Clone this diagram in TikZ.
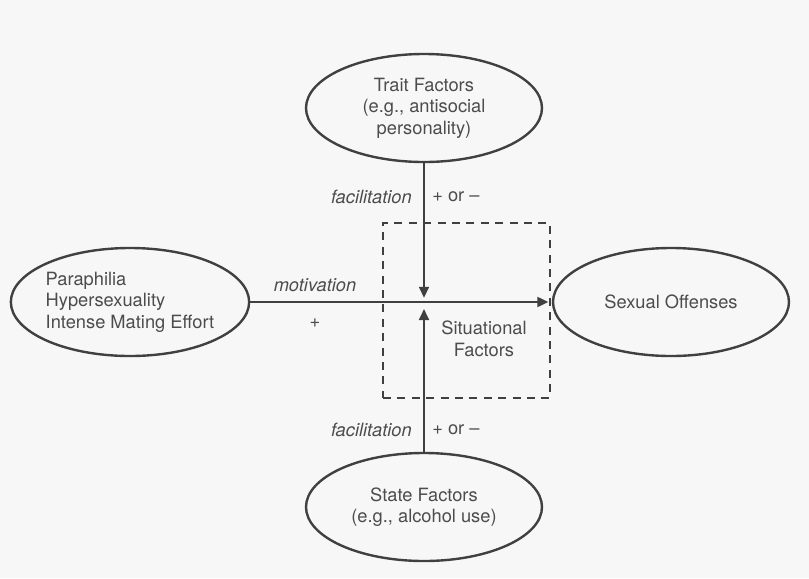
\documentclass[tikz,border=0pt]{standalone}
\usepackage{fontspec}
\setmainfont{TeX Gyre Heros}
\usetikzlibrary{arrows.meta, shapes.geometric, positioning}

\begin{document}
\begin{tikzpicture}
  [factor/.style={ellipse, draw=black!75, line width=1.7pt, text=black!70,
                  minimum width=5.9cm, minimum height=2.7cm, inner sep=0pt,
                  align=center, font=\fontsize{13}{15.3}\selectfont},
   situbox/.style={rectangle, draw=black!75, line width=1.3pt,
                   dash pattern=on 2mm off 1.6mm,
                   minimum width=4.175cm, minimum height=4.375cm},
   lbl/.style={inner sep=0pt, text=black!70,
               font=\fontsize{13}{15.3}\selectfont},
   effect/.style={-{Triangle[length=2.8mm,width=2.4mm]},
                  line width=2pt, draw=black!75}]

  \useasboundingbox [fill=black!3] (0,0) rectangle (20.225,-14.45);

  % Fatores
  \node (trait) at (10.6,-2.7) [factor]
    {Trait Factors\\(e.g., antisocial\\personality)};
  \node (para) at (3.25,-7.55) [factor, align=left]
    {Paraphilia\\Hypersexuality\\Intense Mating Effort};
  \node (offense) at (16.775,-7.55) [factor] {Sexual Offenses};
  \node (state) at (10.6,-12.675) [factor]
    {State Factors\\(e.g., alcohol use)};

  % Caixa situacional
  \node (situ) at (11.6625,-7.7625) [situbox] {};
  \node (situlabel) at (12.1,-8.475) [lbl, align=center]
    {Situational\\Factors};
  \coordinate (meet) at (10.6,-7.55);

  % Setas
  \draw [effect, shorten >=0.08cm] (para.east) -- (offense.west);
  \draw [effect, shorten >=1mm] (trait.south) -- (meet);
  \draw [effect, shorten >=1.7mm] (state.north) -- (meet);

  % Rotulos
  \node (motiv) at (7.875,-7.125) [lbl] {\textit{motivation}};
  \node (plus) at (7.875,-8.075) [lbl] {+};
  \node (facup) at (10.3,-4.925) [lbl, anchor=east] {\textit{facilitation}};
  \node (signup) at (10.8,-4.925) [lbl, anchor=west] {+ or –};
  \node (facdown) at (10.3,-10.75) [lbl, anchor=east] {\textit{facilitation}};
  \node (signdown) at (10.8,-10.75) [lbl, anchor=west] {+ or –};

\end{tikzpicture}
\end{document}
